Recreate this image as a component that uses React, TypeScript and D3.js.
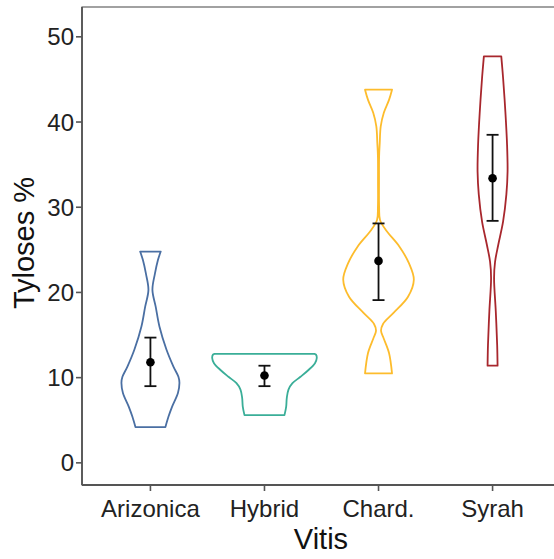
import React from "react";
import * as d3 from "d3";

// Vitis groups shown on the x axis
const categories = ["Arizonica", "Hybrid", "Chard.", "Syrah"];
const colors = ["#4a6fa3", "#3aae98", "#fdbc2c", "#a8272d"];

// Violin outlines: [Tyloses %, density] pairs from bottom to top of each group
const arizonicaDensity: [number, number][] = [
  [4.2, 15], [5.4, 18], [6.6, 21.7], [8.2, 27.5], [9.4, 29], [10.1, 28],
  [11.3, 23], [13.3, 16], [16, 9], [18.3, 5.3], [20.3, 2], [22.2, 4.5],
  [23.8, 7.5], [24.8, 10.3],
];
const hybridDensity: [number, number][] = [
  [5.6, 20], [6.6, 21.7], [7.6, 22.3], [8.6, 24], [9.35, 28], [10.1, 36],
  [10.9, 44], [11.7, 50.5], [12.3, 52.3], [12.7, 51.5], [12.8, 50],
];
const chardDensity: [number, number][] = [
  [10.5, 13.5], [12.9, 10.5], [14.6, 5.2], [15.5, 2.5], [16.3, 4.5],
  [17.6, 15], [19.5, 29.5], [21.5, 35.3], [23.4, 30.5], [25.4, 20.8],
  [27.3, 7.5], [28.5, 1.5], [30, 0.6], [33, 0.5], [36, 0.6], [37.5, 1.2],
  [39.5, 2.2], [41.1, 5.3], [42.6, 10.5], [43.8, 13.5],
];
const syrahDensity: [number, number][] = [
  [11.4, 5], [13.8, 4.6], [17.8, 3.2], [21.7, 1.5], [23.6, 2.5], [25.6, 5.7],
  [28.3, 10.5], [31.5, 13.8], [34.2, 15], [37.3, 14.5], [41.2, 12.8],
  [45.2, 10.5], [47.7, 8.7],
];
const densities = [arizonicaDensity, hybridDensity, chardDensity, syrahDensity];

// Mean with error bar limits
const means = [11.8, 10.25, 23.7, 33.4];
const lows = [9.0, 9.0, 19.1, 28.4];
const highs = [14.7, 11.4, 28.1, 38.5];

const yTicks = [0, 10, 20, 30, 40, 50];

const W = 554;
const H = 559;
const left = 82;
const top = 7;
const bottom = 485;
const right = 561;

export default function App() {
  const x = d3.scalePoint<string>().domain(categories).range([left, right]).padding(0.6);
  const y = d3.scaleLinear().domain([-2.6, 53.5]).range([bottom, top]);
  const halfWidth = d3.scaleLinear().domain([0, 35.3]).range([0, 35.3]);

  const font = "'Liberation Sans', Arial, Helvetica, sans-serif";
  const capHalf = 6;

  return (
    <svg
      width={W}
      height={H}
      style={{ position: "absolute", left: 0, top: 0, background: "#fff" }}
      fontFamily={font}
    >
      <defs>
        <clipPath id="panel">
          <rect x={left} y={top} width={right - left} height={bottom - top} />
        </clipPath>
      </defs>
      <rect x={0} y={0} width={W} height={H} fill="#fff" />

      <g clipPath="url(#panel)">
        {categories.map((c, i) => {
          const cx = x(c)!;
          const area = d3
            .area<[number, number]>()
            .y((d) => y(d[0]))
            .x0((d) => cx - halfWidth(d[1]))
            .x1((d) => cx + halfWidth(d[1]))
            .curve(d3.curveCatmullRom.alpha(0.5));
          return (
            <path
              key={c}
              d={area(densities[i]) || ""}
              fill="#fff"
              stroke={colors[i]}
              strokeWidth={1.8}
              strokeLinejoin="round"
            />
          );
        })}
        {categories.map((c, i) => {
          const cx = x(c)!;
          return (
            <g key={c + "-err"} stroke="#111" strokeWidth={1.8}>
              <line x1={cx} x2={cx} y1={y(lows[i])} y2={y(highs[i])} />
              <line x1={cx - capHalf} x2={cx + capHalf} y1={y(lows[i])} y2={y(lows[i])} />
              <line x1={cx - capHalf} x2={cx + capHalf} y1={y(highs[i])} y2={y(highs[i])} />
              <circle cx={cx} cy={y(means[i])} r={4.3} fill="#000" stroke="none" />
            </g>
          );
        })}
      </g>

      {/* panel frame */}
      <rect
        x={left}
        y={top}
        width={right - left}
        height={bottom - top}
        fill="none"
        stroke="#555"
        strokeWidth={1.1}
      />
      <line x1={left} x2={left} y1={top} y2={bottom} stroke="#555" strokeWidth={1.8} />
      <line x1={left} x2={right} y1={bottom} y2={bottom} stroke="#555" strokeWidth={1.8} />

      {/* y axis */}
      {yTicks.map((t) => (
        <g key={t}>
          <line x1={left - 6} x2={left} y1={y(t)} y2={y(t)} stroke="#555" strokeWidth={1.6} />
          <text
            x={left - 8}
            y={y(t)}
            dy="0.36em"
            textAnchor="end"
            fontSize={24}
            fill="#222"
          >
            {t}
          </text>
        </g>
      ))}
      <text
        transform={`translate(34,${(top + bottom) / 2 - 3}) rotate(-90)`}
        textAnchor="middle"
        fontSize={29}
        fill="#111"
      >
        Tyloses %
      </text>

      {/* x axis */}
      {categories.map((c) => (
        <g key={c + "-tick"}>
          <line x1={x(c)!} x2={x(c)!} y1={bottom} y2={bottom + 6} stroke="#555" strokeWidth={1.6} />
          <text x={x(c)!} y={bottom + 32} textAnchor="middle" fontSize={24} fill="#222">
            {c}
          </text>
        </g>
      ))}
      <text x={321} y={549} textAnchor="middle" fontSize={29} fill="#111">
        Vitis
      </text>
    </svg>
  );
}
